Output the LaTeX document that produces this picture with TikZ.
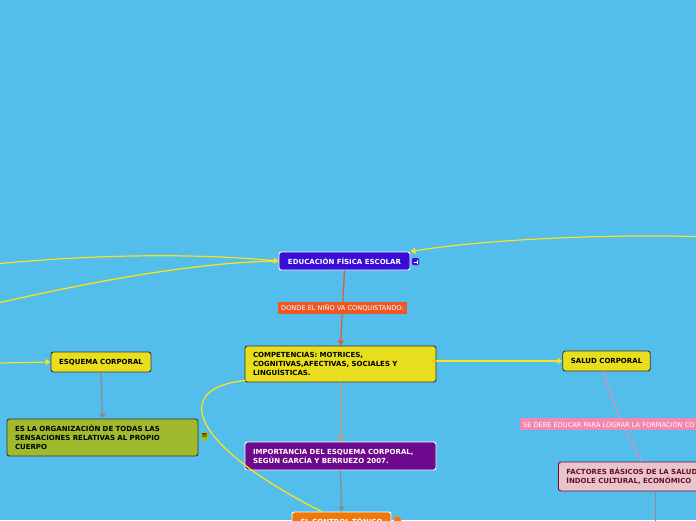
\documentclass[tikz,border=0pt]{standalone}
\usepackage{fontspec}
\setmainfont{DejaVu Sans}
\usetikzlibrary{arrows.meta,positioning,calc}
\definecolor{sky}{RGB}{83,189,236}
\definecolor{cEdu}{RGB}{58,12,215}
\definecolor{cRed}{RGB}{236,88,38}
\definecolor{cYel}{RGB}{232,222,30}
\definecolor{cLine}{RGB}{250,226,30}
\definecolor{cOlive}{RGB}{160,186,46}
\definecolor{cPurple}{RGB}{110,8,140}
\definecolor{cOrange}{RGB}{240,120,10}
\definecolor{cTan}{RGB}{222,150,80}
\definecolor{cPink}{RGB}{242,135,175}
\definecolor{cRose}{RGB}{232,196,204}
\definecolor{cMaroon}{RGB}{105,15,35}
\definecolor{cGrey}{RGB}{140,140,140}

\begin{document}
\begin{tikzpicture}[x=1pt,y=-1pt,
  topic/.style={rectangle,rounded corners=2.5pt,line width=0.9pt,
                inner xsep=8pt,inner ysep=0pt,align=left,
                font=\fontsize{7}{9}\selectfont\bfseries},
  yelbox/.style={topic,fill=cYel,draw=black!80,text=black},
  tag/.style={rectangle,inner xsep=3pt,inner ysep=0pt,minimum height=12pt,
              text=white,font=\fontsize{6.6}{7}\selectfont},
  icon/.style={rectangle,rounded corners=1pt,minimum size=7pt,inner sep=0pt},
  link/.style={line width=1.2pt,-{Triangle[length=5pt,width=6pt]}},
  curve/.style={line width=1.3pt,cLine}]
  \useasboundingbox (0,0) rectangle (696,520);
  \clip (0,0) rectangle (696,520);
  \fill[sky] (0,0) rectangle (696,520);

  % nodes
  \node (edu) [topic,fill=cEdu,draw=white,text=white,align=center,
        minimum width=131pt,minimum height=18pt] at (344.5,261) {EDUCACIÓN FÍSICA ESCOLAR};
  \node (eduicon) [icon,fill=cEdu,draw=cEdu!70!white,line width=0.4pt] at (415.5,261.5) {};
  \draw[white,line width=0.6pt] ($(eduicon)+(-2,0.5)$) -- ($(eduicon)+(1.5,0.5)$)
        ($(eduicon)+(1.5,-2)$) -- ($(eduicon)+(1.5,2)$);
  \node (comp) [yelbox,text width=175pt,minimum height=36pt] at (340.5,364)
        {COMPETENCIAS: MOTRICES,\\COGNITIVAS,AFECTIVAS, SOCIALES Y\\LINGUÍSTICAS.};
  \node (esq) [yelbox,align=center,minimum width=100pt,minimum height=20pt] at (101,362) {ESQUEMA CORPORAL};
  \node (org) [topic,fill=cOlive,draw=black!80,text=black,text width=175pt,
        minimum height=37pt] at (102.5,437.5)
        {ES LA ORGANIZACIÓN DE TODAS LAS\\SENSACIONES RELATIVAS AL PROPIO\\CUERPO};
  \node (orgicon) [icon,fill=cOlive,minimum height=9pt,
        font=\fontsize{7}{7}\selectfont] at (204.5,436) {≡};
  \node (salud) [yelbox,align=center,minimum width=87pt,minimum height=20pt] at (606.5,361) {SALUD CORPORAL};
  \node (fact) [topic,fill=cRose,draw=cMaroon,text=cMaroon,anchor=west,
        text width=184pt,minimum height=29pt] at (558,476.5)
        {FACTORES BÁSICOS DE LA SALUD\\ÍNDOLE CULTURAL, ECONÓMICO};
  \node (imp) [topic,fill=cPurple,draw=white,text=white,text width=175pt,
        minimum height=28pt] at (340.5,456)
        {IMPORTANCIA DEL ESQUEMA CORPORAL,\\SEGÚN GARCÍA Y BERRUEZO 2007.};
  \node (ctrl) [topic,fill=cOrange,draw=white,text=white,align=center,
        minimum width=99pt,minimum height=18pt] at (341.5,521) {EL CONTROL TÓNICO};
  \node (ctrlicon) [icon,fill=cOrange,draw=cOrange!70!white,line width=0.4pt] at (397.5,520) {};

  % outside ends
  \coordinate (inA) at (0,263.5);
  \coordinate (inB) at (0,302.5);
  \coordinate (inC) at (696,236.5);
  \coordinate (inD) at (0,363);
  \coordinate (outF) at (655,525);

  % connectors
  \draw[link,cRed] (edu.south) -- node[tag,fill=cRed]{DONDE EL NIÑO VA CONQUISTANDO:} (comp.north);
  \draw[link,cTan] (comp.south) -- (imp.north);
  \draw[link,cGrey] (imp.south) -- (ctrl.north);
  \draw[link,cGrey] (esq.south) -- (org.north);
  \draw[link,cLine] (comp.east |- salud.west) -- (salud.west);
  \draw[link,cLine] (inD) -- (esq.west);
  \draw[link,cLine] (inA) .. controls (80,256) and (180,252) .. (edu.west);
  \draw[curve] (inB) .. controls (100,280) and (200,262) .. (edu.west);
  \draw[link,cLine] (inC) .. controls (600,234) and (480,240) .. (edu.north east);
  \draw[curve] ($(comp.south west)+(1,-2)$) .. controls (170,388) and (190,445) .. ($(ctrl.north west)+(30,0)$);
  \draw[line width=1pt,cPink] ($(salud.south)+(-3,0)$) .. controls (608,395) and (630,440) .. ($(fact.north west)+(83,0)$);
  \node (debe) [tag,fill=cPink,anchor=west] at (520,424) {SE DEBE EDUCAR PARA LOGRAR LA FORMACIÓN CO};
  \draw[line width=1pt,cGrey] ($(fact.south west)+(97,0)$) -- (outF);
\end{tikzpicture}
\end{document}
